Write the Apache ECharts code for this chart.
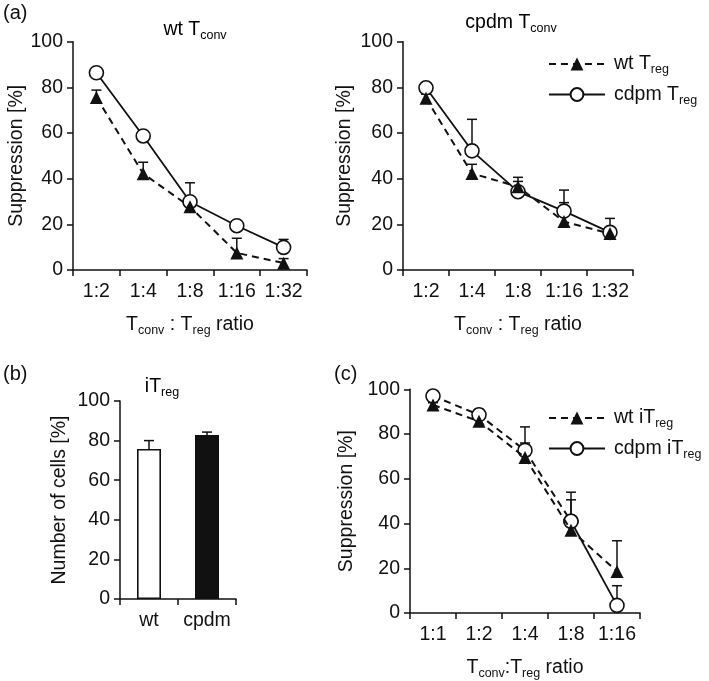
<!DOCTYPE html>
<html>
<head>
<meta charset="utf-8">
<script src="https://cdn.jsdelivr.net/npm/echarts@6/dist/echarts.min.js"></script>
<style>
html,body{margin:0;padding:0;background:#fff;}
#main{width:709px;height:681px;}
</style>
</head>
<body>
<div id="main"></div>
<script>
// ---------- data ----------
const ratioA = ['1:2', '1:4', '1:8', '1:16', '1:32'];
const ratioC = ['1:1', '1:2', '1:4', '1:8', '1:16'];
const yTicks = [0, 20, 40, 60, 80, 100];

// (a) left: wt Tconv
const a1WtMean = [75.6, 42.2, 27.7, 7.5, 3.0];
const a1WtErr  = [78.8, 47.2, 30.0, 13.9, 5.0];
const a1CdMean = [86.4, 58.7, 29.9, 19.4, 9.9];
const a1CdErr  = [87.0, 59.5, 38.2, 20.5, 13.4];

// (a) right: cpdm Tconv
const a2WtMean = [75.2, 42.3, 36.5, 21.2, 16.0];
const a2WtErr  = [77.0, 46.3, 40.6, 29.5, 17.0];
const a2CdMean = [79.8, 52.2, 34.3, 25.8, 16.5];
const a2CdErr  = [80.5, 66.0, 38.8, 35.0, 22.6];

// (b) iTreg cell numbers
const bCats = ['wt', 'cpdm'];
const bMean = [75.8, 82.8];
const bErr  = [80.0, 84.3];

// (c) iTreg suppression
const cWtMean = [93.0, 85.7, 69.5, 37.0, 18.6];
const cWtErr  = [94.0, 88.0, 76.0, 50.6, 32.3];
const cCdMean = [97.0, 88.6, 72.7, 41.0, 3.4];
const cCdErr  = [98.0, 91.0, 83.2, 54.0, 12.2];

// ---------- styling ----------
const FONT = 'Liberation Sans, Arial, Helvetica, sans-serif';
const INK = '#111';
const FS = 19.5;
const rich = {
  n: {fontSize: FS, fontFamily: FONT, color: INK},
  s: {fontSize: 12.5, fontFamily: FONT, color: INK, padding: [12, 0, 0, 0]}
};

const grids = [
  {left: 73, top: 41.7, width: 234, height: 228.3},
  {left: 403, top: 41.7, width: 230, height: 228.3},
  {left: 120, top: 401, width: 116, height: 198},
  {left: 410, top: 389.3, width: 230, height: 226}
];

function xAxis(gi, cats, name, nameGap) {
  return {
    type: 'category', gridIndex: gi, data: cats, boundaryGap: true,
    axisLine: {lineStyle: {color: INK, width: 1.5}},
    axisTick: {show: true, length: 6, alignWithLabel: false, lineStyle: {color: INK, width: 1.5}},
    axisLabel: {color: INK, fontSize: FS, fontFamily: FONT, margin: 12, interval: 0},
    name: name, nameLocation: 'middle', nameGap: nameGap,
    nameTextStyle: {rich: rich}
  };
}
function yAxis(gi, name, nameGap) {
  return {
    type: 'value', gridIndex: gi, min: 0, max: 100, interval: 20,
    axisLine: {show: true, lineStyle: {color: INK, width: 1.5}},
    axisTick: {show: true, length: 6, lineStyle: {color: INK, width: 1.5}},
    axisLabel: {color: INK, fontSize: FS, fontFamily: FONT, margin: 10},
    splitLine: {show: false},
    name: name, nameLocation: 'middle', nameGap: nameGap,
    nameTextStyle: {color: INK, fontSize: FS, fontFamily: FONT}
  };
}

function errSeries(gi, means, tops, z) {
  return {
    type: 'custom', xAxisIndex: gi, yAxisIndex: gi, z: z || 1,
    silent: true,
    data: means.map((m, i) => [i, m, tops[i]]),
    renderItem: function (params, api) {
      const p0 = api.coord([api.value(0), api.value(1)]);
      const p1 = api.coord([api.value(0), api.value(2)]);
      const hw = 5;
      return {
        type: 'group',
        children: [
          {type: 'line', shape: {x1: p0[0], y1: p0[1], x2: p1[0], y2: p1[1]}, style: {stroke: INK, lineWidth: 1.5}},
          {type: 'line', shape: {x1: p1[0] - hw, y1: p1[1], x2: p1[0] + hw, y2: p1[1]}, style: {stroke: INK, lineWidth: 1.5}}
        ]
      };
    }
  };
}

const dashed = {color: INK, width: 2, type: [7, 5]};
const solid = {color: INK, width: 1.8, type: 'solid'};

function triSeries(gi, name, data, lineStyle) {
  return {
    type: 'line', name: name, xAxisIndex: gi, yAxisIndex: gi, data: data,
    symbol: 'triangle', symbolSize: 13, showAllSymbol: true,
    itemStyle: {color: INK, borderColor: INK, borderWidth: 0},
    lineStyle: lineStyle || dashed, z: 4, animation: false
  };
}
function circSeries(gi, name, data, lineStyle) {
  return {
    type: 'line', name: name, xAxisIndex: gi, yAxisIndex: gi, data: data,
    symbol: 'circle', symbolSize: 14, showAllSymbol: true,
    itemStyle: {color: '#fff', borderColor: INK, borderWidth: 1.6},
    lineStyle: lineStyle || solid, z: 3, animation: false
  };
}

// (c) cdpm: dashed up to 1:8, solid from 1:8 to 1:16 (as in the original)
const cCdDashed = cCdMean.map((v, i) => (i <= 3 ? v : null));
const cCdSolid = cCdMean.map((v, i) => (i >= 3 ? v : null));

const sub = (a, b) => '{n|' + a + '}{s|' + b + '}';

const option = {
  backgroundColor: '#fff',
  animation: false,
  grid: grids,
  xAxis: [
    xAxis(0, ratioA, '{n|T}{s|conv}{n| : T}{s|reg}{n| ratio}', 42),
    xAxis(1, ratioA, '{n|T}{s|conv}{n| : T}{s|reg}{n| ratio}', 42),
    xAxis(2, bCats, '', 30),
    xAxis(3, ratioC, '{n|T}{s|conv}{n|:T}{s|reg}{n| ratio}', 42)
  ],
  yAxis: [
    yAxis(0, 'Suppression [%]', 38),
    yAxis(1, 'Suppression [%]', 48),
    yAxis(2, 'Number of cells [%]', 50),
    yAxis(3, 'Suppression [%]', 53)
  ],
  legend: [
    {
      data: ['wt Treg', 'cdpm Treg'], orient: 'vertical', left: 543, top: 49,
      itemWidth: 56, itemHeight: 16, itemGap: 8, selectedMode: false,
      formatter: n => n === 'wt Treg' ? sub('wt T', 'reg') : sub('cdpm T', 'reg'),
      textStyle: {rich: rich, padding: [0, 0, 0, 4]}
    },
    {
      data: ['wt iTreg', 'cdpm iTreg'], orient: 'vertical', left: 543, top: 403,
      itemWidth: 56, itemHeight: 16, itemGap: 8, selectedMode: false,
      formatter: n => n === 'wt iTreg' ? sub('wt iT', 'reg') : sub('cdpm iT', 'reg'),
      textStyle: {rich: rich, padding: [0, 0, 0, 4]}
    }
  ],
  series: [
    // (a) left
    errSeries(0, a1WtMean, a1WtErr, 2),
    errSeries(0, a1CdMean, a1CdErr, 2),
    circSeries(0, 'cdpm Treg', a1CdMean),
    triSeries(0, 'wt Treg', a1WtMean),
    // (a) right
    errSeries(1, a2WtMean, a2WtErr, 2),
    errSeries(1, a2CdMean, a2CdErr, 2),
    circSeries(1, 'cdpm Treg', a2CdMean),
    triSeries(1, 'wt Treg', a2WtMean),
    // (b)
    errSeries(2, bMean, bErr, 1),
    {
      type: 'bar', xAxisIndex: 2, yAxisIndex: 2, barWidth: 24, z: 3,
      data: bMean.map((v, i) => ({
        value: v,
        itemStyle: i === 0 ? {color: '#fff', borderColor: INK, borderWidth: 1.6} : {color: INK, borderColor: INK, borderWidth: 1.6}
      }))
    },
    // (c)
    errSeries(3, cWtMean, cWtErr, 2),
    errSeries(3, cCdMean, cCdErr, 2),
    circSeries(3, 'cdpm iTreg dashed', cCdDashed, dashed),
    circSeries(3, 'cdpm iTreg', cCdSolid, solid),
    triSeries(3, 'wt iTreg', cWtMean)
  ],
  graphic: [
    {type: 'text', left: 3, top: 3, style: {text: '(a)', font: '20px ' + FONT, fill: INK}},
    {type: 'text', left: 3, top: 364, style: {text: '(b)', font: '20px ' + FONT, fill: INK}},
    {type: 'text', left: 334, top: 364, style: {text: '(c)', font: '20px ' + FONT, fill: INK}},
    {type: 'text', x: 195, y: 30, style: {text: sub('wt T', 'conv'), rich: rich, align: 'center', verticalAlign: 'middle'}},
    {type: 'text', x: 511, y: 23, style: {text: sub('cpdm T', 'conv'), rich: rich, align: 'center', verticalAlign: 'middle'}},
    {type: 'text', x: 162, y: 387, style: {text: sub('iT', 'reg'), rich: rich, align: 'center', verticalAlign: 'middle'}}
  ]
};

const chart = echarts.init(document.getElementById('main'), null, {renderer: 'canvas'});
chart.setOption(option);
</script>
</body>
</html>
